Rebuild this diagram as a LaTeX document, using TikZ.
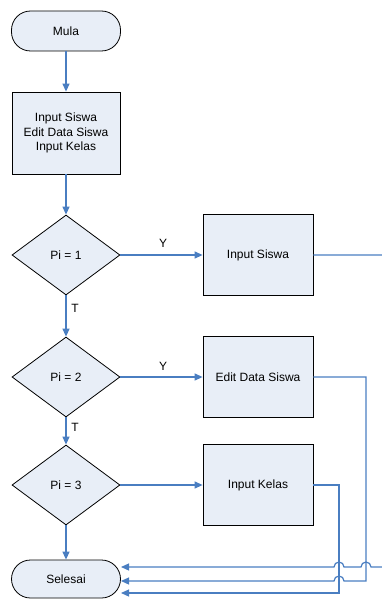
\documentclass[tikz,border=0pt]{standalone}
\usepackage{fontspec}
\setmainfont{Liberation Sans}
\usetikzlibrary{shapes.geometric,arrows.meta}
\definecolor{flowblue}{RGB}{74,126,193}
\definecolor{shapefill}{RGB}{232,238,247}
\begin{document}
\begin{tikzpicture}[x=1pt,y=-1pt,
  font=\fontsize{12}{14.5}\selectfont,
  base/.style={draw=black, fill=shapefill, line width=0.8pt, inner sep=0pt, align=center},
  terminal/.style={base, rectangle, rounded corners=19pt, minimum width=109pt},
  process/.style={base, rectangle, minimum width=110pt, minimum height=81pt},
  decision/.style={base, diamond, minimum width=108pt, minimum height=80pt},
  flow/.style={draw=flowblue, line width=1.2pt, -{Triangle[length=8pt,width=7pt]}},
  link/.style={draw=flowblue, line width=1.2pt}]
\useasboundingbox (0,0) rectangle (382,599);

% main column
\node[terminal, minimum height=40pt] (mula) at (66,31) {Mula};
\node[process, minimum width=108pt, minimum height=82pt] (menu) at (66,133)
  {Input Siswa\\Edit Data Siswa\\Input Kelas};
\node[decision] (d1) at (66,255) {Pi = 1};
\node[decision] (d2) at (66,377) {Pi = 2};
\node[decision] (d3) at (66,485) {Pi = 3};
\node[terminal, minimum height=38pt] (selesai) at (66,579) {Selesai};

% actions
\node[process] (r1) at (258,255) {Input Siswa};
\node[process] (r2) at (258,377) {Edit Data Siswa};
\node[process] (r3) at (258,485) {Input Kelas};

% branch labels
\node (y1) at (163,243) {Y};
\node (y2) at (163,366) {Y};
\node (t1) at (75,308) {T};
\node (t2) at (75,427) {T};

% downward flow
\draw[flow] (mula.south) -- (menu.north);
\draw[flow] (menu.south) -- (d1.north);
\draw[flow] (d1.south) -- (d2.north);
\draw[flow] (d2.south) -- (d3.north);
\draw[flow] (d3.south) -- (selesai.north);

% yes branches
\draw[flow] (d1.east) -- (r1.west);
\draw[flow] (d2.east) -- (r2.west);
\draw[flow] (d3.east) -- (r3.west);

% return paths to Selesai
\coordinate (a1) at (386,255);
\coordinate (a2) at (386,567);
\coordinate (in1) at (121,567);
\coordinate (b1) at (366,377);
\coordinate (b2) at (366,581);
\coordinate (in2) at (121,581);
\coordinate (c1) at (339,485);
\coordinate (c2) at (339,593);
\coordinate (in3) at (121,593);

\draw[flow] (r1.east) -- (a1) -- (a2) -- (371,567)
  arc[start angle=0, end angle=180, radius=5pt] -- (344,567)
  arc[start angle=0, end angle=180, radius=5pt] -- (in1);
\draw[flow] (r2.east) -- (b1) -- (b2) -- (344,581)
  arc[start angle=0, end angle=180, radius=5pt] -- (in2);
\draw[flow] (r3.east) -- (c1) -- (c2) -- (in3);
\end{tikzpicture}
\end{document}
